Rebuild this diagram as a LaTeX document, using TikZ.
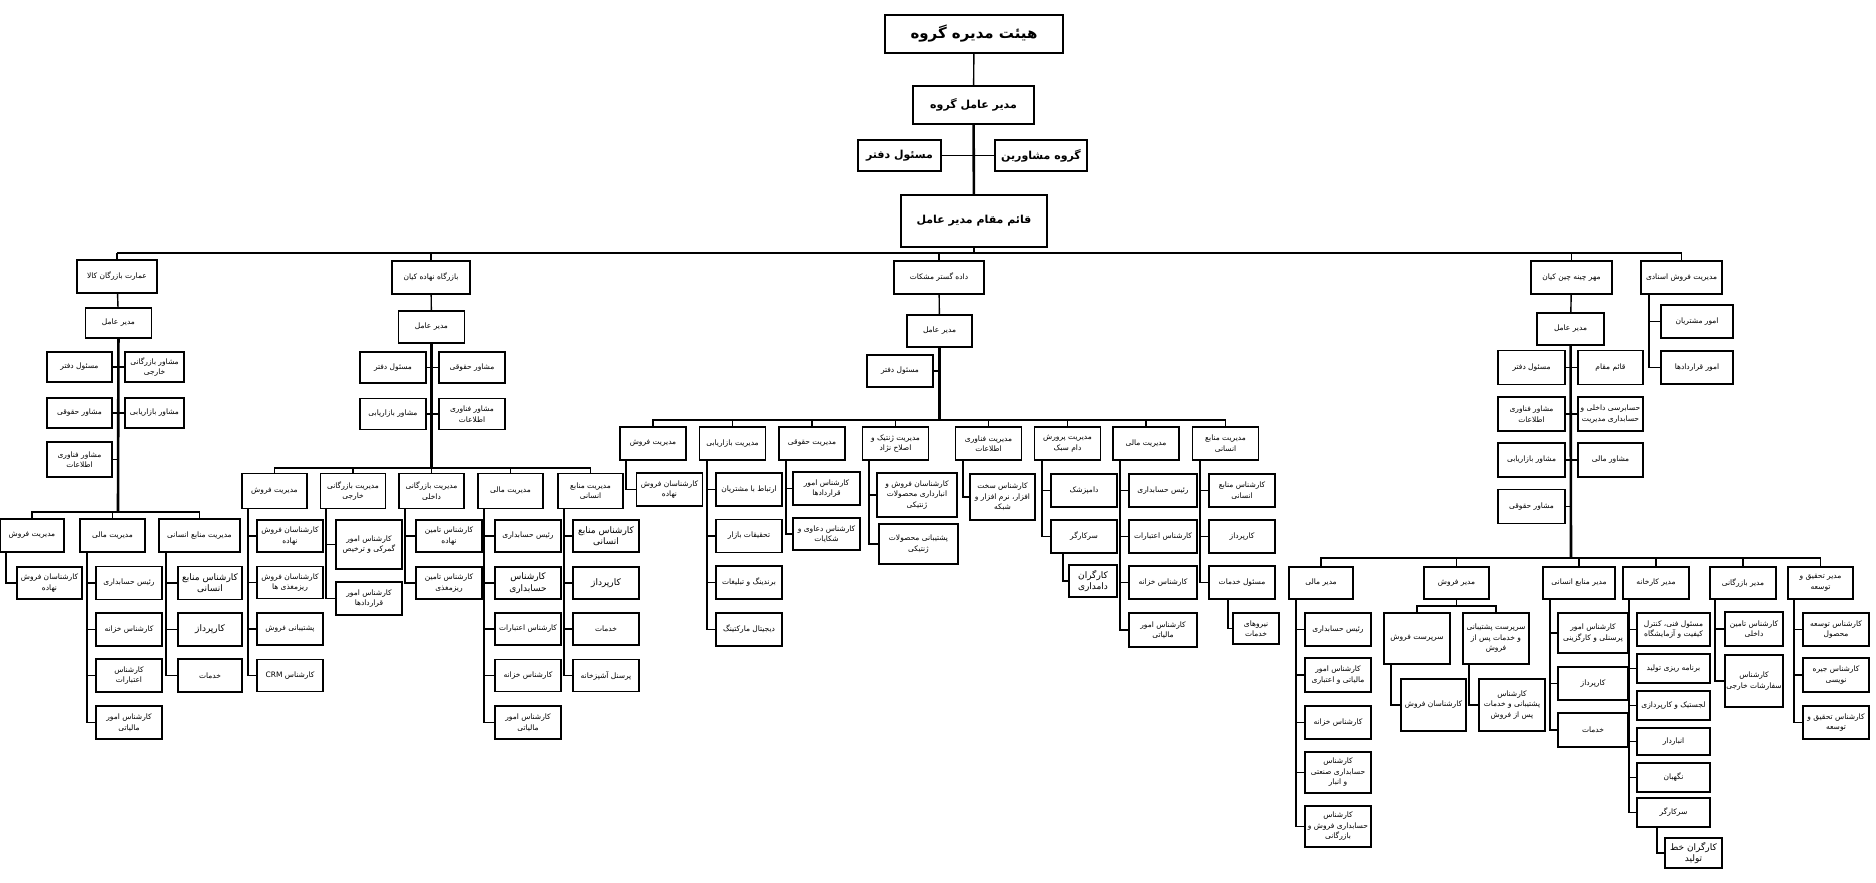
\documentclass[tikz,border=0pt]{standalone}
\usepackage{fontspec}
\newfontfamily\pfont[Script=Arabic]{DejaVu Sans}
\TeXXeTstate=1
\newcommand\rl[1]{\beginR#1\endR}

\begin{document}
\begin{tikzpicture}
[x=1pt,y=-1pt,
box/.style={draw, line width=1.9pt, align=center, inner sep=1pt,
minimum width=66pt, minimum height=33pt,
font=\pfont\fontsize{7.5}{10.5}\selectfont},
big/.style={font=\pfont\fontsize{9}{11.5}\selectfont},
title/.style={box, font=\pfont\bfseries\fontsize{11}{13}\selectfont},
link/.style={draw, line width=1.4pt},
bus/.style={draw, line width=2.6pt}]
\useasboundingbox[fill=white] (0,0) rectangle (1876,883);

% board
\node[title, minimum width=178pt, minimum height=38pt,
font=\pfont\bfseries\fontsize{15}{17}\selectfont] (board) at (974,34) {\rl{هیئت مدیره گروه}};
\node[title, minimum width=121pt, minimum height=38pt] (ceo) at (973.5,105) {\rl{مدیر عامل گروه}};
\node[title, minimum width=83pt, minimum height=31pt] (office) at (899.5,155.5) {\rl{مسئول دفتر}};
\node[title, minimum width=92pt, minimum height=31pt] (council) at (1041,155.5) {\rl{گروه مشاورین}};
\node[title, minimum width=146pt, minimum height=52pt] (deputy) at (974,221) {\rl{قائم مقام مدیر عامل}};
\coordinate (mainbus) at (974,253);
\draw[link] (board) -- (ceo);
\draw[bus] (ceo) -- (deputy);
\draw[link] (office) -- (office -| ceo);
\draw[link] (council) -- (council -| ceo);
\draw[bus] (deputy) -- (mainbus);

% company 1
\node[box, minimum width=80pt] (kala) at (117,276.5) {\rl{عمارت بازرگان کالا}};
\node[box, minimum height=30pt] (kceo) at (118.5,323) {\rl{مدیر عامل}};
\node[box, minimum width=65pt, minimum height=30pt] (kof) at (79.5,367) {\rl{مسئول دفتر}};
\node[box, minimum width=59pt, minimum height=30pt] (kfa) at (154.5,367) {\rl{مشاور بازرگانی}\\\rl{خارجی}};
\node[box, minimum width=65pt, minimum height=30pt] (kla) at (79.5,413) {\rl{مشاور حقوقی}};
\node[box, minimum width=59pt, minimum height=30pt] (kma) at (154.5,413) {\rl{مشاور بازاریابی}};
\node[box, minimum width=65pt, minimum height=35pt] (kit) at (79.5,459.5) {\rl{مشاور فناوری}\\\rl{اطلاعات}};
\coordinate (kbus) at (118,512);
\node[box, minimum width=64pt] (ksal) at (32,535.5) {\rl{مدیریت فروش}};
\node[box, minimum width=65pt] (kfin) at (112.5,535.5) {\rl{مدیریت مالی}};
\node[box, minimum width=81pt] (khr) at (199.5,535.5) {\rl{مدیریت منابع انسانی}};
\node[box, minimum width=65pt, minimum height=32pt] (ksal1) at (49.5,583) {\rl{کارشناسان فروش}\\\rl{نهاده}};
\node[box] (kfin1) at (129,583) {\rl{رئیس حسابداری}};
\node[box] (kfin2) at (129,629.5) {\rl{کارشناس خزانه}};
\node[box] (kfin3) at (129,675.5) {\rl{کارشناس}\\\rl{اعتبارات}};
\node[box] (kfin4) at (129,722.5) {\rl{کارشناس امور}\\\rl{مالیاتی}};
\node[box, big, minimum width=64pt] (khr1) at (210,583) {\rl{کارشناس منابع}\\\rl{انسانی}};
\node[box, big, minimum width=64pt] (khr2) at (210,629.5) {\rl{کارپرداز}};
\node[box, minimum width=64pt] (khr3) at (210,675.5) {\rl{خدمات}};
\coordinate (ksalS) at (6,0);
\coordinate (kfinS) at (87,0);
\coordinate (khrS) at (166,0);
\draw[link] (kala.north) -- (kala.north |- mainbus);
\draw[link] (kala) -- (kceo);
\draw[bus] (kceo) -- (kbus);
\foreach \c in {kof,kla,kit} \draw[link] (\c.east) -- (\c.east -| kbus);
\foreach \c in {kfa,kma} \draw[link] (\c.west) -- (\c.west -| kbus);
\foreach \c in {ksal,kfin,khr} \draw[link] (kbus) -| (\c.north);
\draw[link] (ksal.south -| ksalS) |- (ksal1.west);
\draw[link] (kfin.south -| kfinS) |- (kfin4.west);
\foreach \c in {kfin1,kfin2,kfin3} \draw[link] (\c.west) -- (\c.west -| kfinS);
\draw[link] (khr.south -| khrS) |- (khr3.west);
\foreach \c in {khr1,khr2} \draw[link] (\c.west) -- (\c.west -| khrS);

% company 2
\node[box, minimum width=78pt] (nah) at (431,277.5) {\rl{بازرگاه نهاده کیان}};
\node[box, minimum height=32pt] (nceo) at (431.5,327) {\rl{مدیر عامل}};
\node[box, minimum height=31pt] (nof) at (393,367.5) {\rl{مسئول دفتر}};
\node[box, minimum height=31pt] (nla) at (472,367.5) {\rl{مشاور حقوقی}};
\node[box, minimum height=31pt] (nma) at (393,414) {\rl{مشاور بازاریابی}};
\node[box, minimum height=31pt] (nit) at (472,414) {\rl{مشاور فناوری}\\\rl{اطلاعات}};
\coordinate (nbus) at (431.5,468);
\node[box, minimum width=65pt, minimum height=35pt] (nsal) at (274.5,491) {\rl{مدیریت فروش}};
\node[box, minimum width=65pt, minimum height=35pt] (nfor) at (353,491) {\rl{مدیریت  بازرگانی}\\\rl{خارجی}};
\node[box, minimum width=65pt, minimum height=35pt] (ndom) at (431.5,491) {\rl{مدیریت بازرگانی}\\\rl{داخلی}};
\node[box, minimum width=65pt, minimum height=35pt] (nfin) at (510.5,491) {\rl{مدیریت مالی}};
\node[box, minimum width=65pt, minimum height=35pt] (nhr) at (590.5,491) {\rl{مدیریت منابع}\\\rl{انسانی}};
\node[box, minimum height=32pt] (nsal1) at (290,536) {\rl{کارشناسان فروش}\\\rl{نهاده}};
\node[box, minimum height=32pt] (nsal2) at (290,582.5) {\rl{کارشناسان فروش}\\\rl{ریزمغذی ها}};
\node[box, minimum height=32pt] (nsal3) at (290,629) {\rl{پشتیبانی فروش}};
\node[box, minimum height=32pt] (nsal4) at (290,675.5) {\rl{کارشناس \beginL CRM\endL}};
\node[box, minimum height=49pt] (nfor1) at (369,544.5) {\rl{کارشناس امور}\\\rl{گمرکی و ترخیص}};
\node[box] (nfor2) at (369,598.5) {\rl{کارشناس امور}\\\rl{قراردادها}};
\node[box, minimum height=32pt] (ndom1) at (449,536) {\rl{کارشناس تامین}\\\rl{نهاده}};
\node[box, minimum height=32pt] (ndom2) at (449,583) {\rl{کارشناس تامین}\\\rl{ریزمغذی}};
\node[box, minimum height=32pt] (nfin1) at (528,536) {\rl{رئیس حسابداری}};
\node[box, big, minimum height=32pt] (nfin2) at (528,583) {\rl{کارشناس}\\\rl{حسابداری}};
\node[box, minimum height=32pt] (nfin3) at (528,629) {\rl{کارشناس اعتبارات}};
\node[box, minimum height=32pt] (nfin4) at (528,675.5) {\rl{کارشناس خزانه}};
\node[box] (nfin5) at (528,722.5) {\rl{کارشناس امور}\\\rl{مالیاتی}};
\node[box, big, minimum height=32pt] (nhr1) at (606,536) {\rl{کارشناس منابع}\\\rl{انسانی}};
\node[box, big, minimum height=32pt] (nhr2) at (606,583) {\rl{کارپرداز}};
\node[box, minimum height=32pt] (nhr3) at (606,629) {\rl{خدمات}};
\node[box, minimum height=32pt] (nhr4) at (606,675.5) {\rl{پرسنل آشپزخانه}};
\coordinate (nsalS) at (248,0);
\coordinate (nforS) at (326,0);
\coordinate (ndomS) at (405,0);
\coordinate (nfinS) at (484,0);
\coordinate (nhrS) at (564,0);
\draw[link] (nah.north) -- (nah.north |- mainbus);
\draw[link] (nah) -- (nceo);
\draw[bus] (nceo) -- (nbus);
\foreach \c in {nof,nma} \draw[link] (\c.east) -- (\c.east -| nbus);
\foreach \c in {nla,nit} \draw[link] (\c.west) -- (\c.west -| nbus);
\foreach \c in {nsal,nfor,ndom,nfin,nhr} \draw[link] (nbus) -| (\c.north);
\draw[link] (nsal.south -| nsalS) |- (nsal4.west);
\foreach \c in {nsal1,nsal2,nsal3} \draw[link] (\c.west) -- (\c.west -| nsalS);
\draw[link] (nfor.south -| nforS) |- (nfor2.west);
\draw[link] (nfor1.west) -- (nfor1.west -| nforS);
\draw[link] (ndom.south -| ndomS) |- (ndom2.west);
\draw[link] (ndom1.west) -- (ndom1.west -| ndomS);
\draw[link] (nfin.south -| nfinS) |- (nfin5.west);
\foreach \c in {nfin1,nfin2,nfin3,nfin4} \draw[link] (\c.west) -- (\c.west -| nfinS);
\draw[link] (nhr.south -| nhrS) |- (nhr4.west);
\foreach \c in {nhr1,nhr2,nhr3} \draw[link] (\c.west) -- (\c.west -| nhrS);

% company 3
\node[box, minimum width=90pt] (msh) at (939,277.5) {\rl{داده گستر مشکات}};
\node[box, minimum width=65pt, minimum height=32pt] (mceo) at (939.5,331) {\rl{مدیر عامل}};
\node[box, minimum height=32pt] (mof) at (900,371) {\rl{مسئول دفتر}};
\coordinate (mbus) at (939.5,420);
\node[box] (msal) at (653,443.5) {\rl{مدیریت فروش}};
\node[box] (mmar) at (732.5,443.5) {\rl{مدیریت بازاریابی}};
\node[box] (mlaw) at (812,443.5) {\rl{مدیریت حقوقی}};
\node[box] (mgen) at (895.5,443.5) {\rl{مدیریت ژنتیک و}\\\rl{اصلاح نژاد}};
\node[box] (mit) at (988.5,443.5) {\rl{مدیریت فناوری}\\\rl{اطلاعات}};
\node[box] (mliv) at (1067.5,443.5) {\rl{مدیریت پرورش}\\\rl{دام سبک}};
\node[box] (mfin) at (1146,443.5) {\rl{مدیریت مالی}};
\node[box] (mhr) at (1225.5,443.5) {\rl{مدیریت منابع}\\\rl{انسانی}};
\node[box] (msal1) at (669.5,489.5) {\rl{کارشناسان فروش}\\\rl{نهاده}};
\node[box] (mmar1) at (749,489.5) {\rl{ارتباط با مشتریان}};
\node[box] (mmar2) at (749,536) {\rl{تحقیقات بازار}};
\node[box] (mmar3) at (749,582.5) {\rl{برندینگ و تبلیغات}};
\node[box] (mmar4) at (749,629.5) {\rl{دیجیتال مارکتینگ}};
\node[box, minimum width=67pt] (mlaw1) at (826.5,488.5) {\rl{کارشناس امور}\\\rl{قراردادها}};
\node[box, minimum width=67pt, minimum height=32pt] (mlaw2) at (826.5,534) {\rl{کارشناس دعاوی و}\\\rl{شکایات}};
\node[box, minimum width=80pt, minimum height=44pt] (mgen1) at (917,495) {\rl{کارشناسان فروش و}\\\rl{انبارداری محصولات}\\\rl{ژنتیکی}};
\node[box, minimum width=79pt, minimum height=40pt] (mgen2) at (918.5,544) {\rl{پشتیبانی محصولات}\\\rl{ژنتیکی}};
\node[box, minimum width=65pt, minimum height=46pt] (mit1) at (1002.5,497) {\rl{کارشناس سخت}\\\rl{افزار، نرم افزار و}\\\rl{شبکه}};
\node[box] (mliv1) at (1084,490.5) {\rl{دامپزشک}};
\node[box] (mliv2) at (1084,536.5) {\rl{سرکارگر}};
\node[box, big, minimum width=48pt, minimum height=32pt] (mliv3) at (1093,581) {\rl{کارگران}\\\rl{دامداری}};
\node[box, minimum width=68pt] (mfin1) at (1163,490.5) {\rl{رئیس حسابداری}};
\node[box, minimum width=68pt] (mfin2) at (1163,536.5) {\rl{کارشناس اعتبارات}};
\node[box, minimum width=68pt] (mfin3) at (1163,582.5) {\rl{کارشناس خزانه}};
\node[box, minimum width=68pt, minimum height=34pt] (mfin4) at (1163,630) {\rl{کارشناس امور}\\\rl{مالیاتی}};
\node[box] (mhr1) at (1242,490.5) {\rl{کارشناس منابع}\\\rl{انسانی}};
\node[box] (mhr2) at (1242,536.5) {\rl{کارپرداز}};
\node[box] (mhr3) at (1242,582.5) {\rl{مسئول خدمات}};
\node[box, minimum width=46pt, minimum height=31pt] (mhr4) at (1256,628.5) {\rl{نیروهای}\\\rl{خدمات}};
\coordinate (msalS) at (626,0);
\coordinate (mmarS) at (707,0);
\coordinate (mlawS) at (786,0);
\coordinate (mgenS) at (869,0);
\coordinate (mitS) at (963,0);
\coordinate (mlivS) at (1042,0);
\coordinate (mlivT) at (1063,0);
\coordinate (mfinS) at (1120,0);
\coordinate (mhrS) at (1200,0);
\coordinate (mhrT) at (1228,0);
\draw[link] (msh.north) -- (msh.north |- mainbus);
\draw[link] (msh) -- (mceo);
\draw[bus] (mceo) -- (mbus);
\draw[link] (mof.east) -- (mof.east -| mbus);
\foreach \c in {msal,mmar,mlaw,mgen,mit,mliv,mfin,mhr} \draw[link] (mbus) -| (\c.north);
\draw[link] (msal.south -| msalS) |- (msal1.west);
\draw[link] (mmar.south -| mmarS) |- (mmar4.west);
\foreach \c in {mmar1,mmar2,mmar3} \draw[link] (\c.west) -- (\c.west -| mmarS);
\draw[link] (mlaw.south -| mlawS) |- (mlaw2.west);
\draw[link] (mlaw1.west) -- (mlaw1.west -| mlawS);
\draw[link] (mgen.south -| mgenS) |- (mgen2.west);
\draw[link] (mgen1.west) -- (mgen1.west -| mgenS);
\draw[link] (mit.south -| mitS) |- (mit1.west);
\draw[link] (mliv.south -| mlivS) |- (mliv2.west);
\draw[link] (mliv1.west) -- (mliv1.west -| mlivS);
\draw[link] (mliv2.south -| mlivT) |- (mliv3.west);
\draw[link] (mfin.south -| mfinS) |- (mfin4.west);
\foreach \c in {mfin1,mfin2,mfin3} \draw[link] (\c.west) -- (\c.west -| mfinS);
\draw[link] (mhr.south -| mhrS) |- (mhr3.west);
\foreach \c in {mhr1,mhr2} \draw[link] (\c.west) -- (\c.west -| mhrS);
\draw[link] (mhr3.south -| mhrT) |- (mhr4.west);

% company 4
\node[box, minimum width=81pt] (chin) at (1571.5,277.5) {\rl{مهر چینه چین کیان}};
\node[box, minimum width=81pt] (doc) at (1681.5,277.5) {\rl{مدیریت فروش اسنادی}};
\node[box, minimum width=72pt] (doc1) at (1697,321.5) {\rl{امور مشتریان}};
\node[box, minimum width=72pt] (doc2) at (1697,367.5) {\rl{امور قراردادها}};
\node[box, minimum width=67pt, minimum height=32pt] (cceo) at (1570.5,329) {\rl{مدیر عامل}};
\node[box, minimum width=67pt, minimum height=34pt] (cof) at (1531.5,367.5) {\rl{مسئول دفتر}};
\node[box, minimum width=67pt, minimum height=34pt] (cit) at (1531.5,414) {\rl{مشاور فناوری}\\\rl{اطلاعات}};
\node[box, minimum width=67pt, minimum height=34pt] (cma) at (1531.5,460) {\rl{مشاور بازاریابی}};
\node[box, minimum width=67pt, minimum height=34pt] (cla) at (1531.5,506.5) {\rl{مشاور حقوقی}};
\node[box, minimum width=65pt, minimum height=34pt] (cdep) at (1610.5,367.5) {\rl{قائم مقام}};
\node[box, minimum width=65pt, minimum height=34pt] (caud) at (1610.5,414) {\rl{حسابرسی داخلی و}\\\rl{حسابداری مدیریت}};
\node[box, minimum width=65pt, minimum height=34pt] (cfa) at (1610.5,460) {\rl{مشاور مالی}};
\coordinate (cbus) at (1571,558);
\node[box, minimum width=64pt, minimum height=32pt] (cfin) at (1321,583) {\rl{مدیر مالی}};
\node[box, minimum width=65pt, minimum height=32pt] (csal) at (1456.5,583) {\rl{مدیر فروش}};
\node[box, minimum width=72pt, minimum height=32pt] (chr) at (1579,583) {\rl{مدیر منابع انسانی}};
\node[box, minimum height=32pt] (cfac) at (1656,583) {\rl{مدیر کارخانه}};
\node[box, minimum height=32pt] (ccom) at (1743,583) {\rl{مدیر بازرگانی}};
\node[box, minimum width=65pt, minimum height=32pt] (crd) at (1820.5,583) {\rl{مدیر تحقیق و}\\\rl{توسعه}};
\node[box] (cfin1) at (1338,629.5) {\rl{رئیس حسابداری}};
\node[box, minimum height=34pt] (cfin2) at (1338,675) {\rl{کارشناس امور}\\\rl{مالیاتی و اعتباری}};
\node[box] (cfin3) at (1338,722.5) {\rl{کارشناس خزانه}};
\node[box, minimum height=41pt] (cfin4) at (1338,772.5) {\rl{کارشناس}\\\rl{حسابداری صنعتی}\\\rl{و انبار}};
\node[box, minimum height=41pt] (cfin5) at (1338,826.5) {\rl{کارشناس}\\\rl{حسابداری فروش و}\\\rl{بازرگانی}};
\coordinate (csbus) at (1456.5,606);
\node[box, minimum height=51pt] (csal1) at (1417,638.5) {\rl{سرپرست فروش}};
\node[box, minimum height=51pt] (csal2) at (1496,638.5) {\rl{سرپرست پشتیبانی}\\\rl{و خدمات پس از}\\\rl{فروش}};
\node[box, minimum width=65pt, minimum height=52pt] (csal3) at (1433.5,705) {\rl{کارشناسان فروش}};
\node[box, minimum height=52pt] (csal4) at (1512,705) {\rl{کارشناس}\\\rl{پشتیبانی و خدمات}\\\rl{پس از فروش}};
\node[box, minimum width=70pt, minimum height=40pt] (chr1) at (1593,633) {\rl{کارشناس امور}\\\rl{پرسنلی و کارگزینی}};
\node[box, minimum width=70pt] (chr2) at (1593,683.5) {\rl{کارپرداز}};
\node[box, minimum width=70pt, minimum height=34pt] (chr3) at (1593,730) {\rl{خدمات}};
\node[box, minimum width=73pt] (cfac1) at (1673.5,629.5) {\rl{مسئول فنی، کنترل}\\\rl{کیفیت و آزمایشگاه}};
\node[box, minimum width=73pt, minimum height=29pt] (cfac2) at (1673.5,668.5) {\rl{برنامه ریزی تولید}};
\node[box, minimum width=73pt, minimum height=29pt] (cfac3) at (1673.5,705.5) {\rl{لجستیک و کارپردازی}};
\node[box, minimum width=73pt, minimum height=27pt] (cfac4) at (1673.5,741.5) {\rl{انباردار}};
\node[box, minimum width=73pt, minimum height=29pt] (cfac5) at (1673.5,777.5) {\rl{نگهبان}};
\node[box, minimum width=73pt, minimum height=29pt] (cfac6) at (1673.5,812.5) {\rl{سرکارگر}};
\node[box, big, minimum width=57pt, minimum height=30pt] (cfac7) at (1693.5,853) {\rl{کارگران خط}\\\rl{تولید}};
\node[box, minimum width=58pt, minimum height=34pt] (ccom1) at (1754,629) {\rl{کارشناس تامین}\\\rl{داخلی}};
\node[box, minimum width=58pt, minimum height=52pt] (ccom2) at (1754,681) {\rl{کارشناس}\\\rl{سفارشات خارجی}};
\node[box] (crd1) at (1836,629.5) {\rl{کارشناس توسعه}\\\rl{محصول}};
\node[box, minimum height=34pt] (crd2) at (1836,675) {\rl{کارشناس جیره}\\\rl{نویسی}};
\node[box] (crd3) at (1836,722.5) {\rl{کارشناس تحقیق و}\\\rl{توسعه}};
\coordinate (docS) at (1649,0);
\coordinate (cfinS) at (1296,0);
\coordinate (csalS) at (1391,0);
\coordinate (csalT) at (1469,0);
\coordinate (chrS) at (1550,0);
\coordinate (cfacS) at (1629,0);
\coordinate (cfacT) at (1657,0);
\coordinate (ccomS) at (1715,0);
\coordinate (crdS) at (1794,0);
\draw[bus] (kala.north |- mainbus) -- (doc.north |- mainbus);
\draw[link] (chin.north) -- (chin.north |- mainbus);
\draw[link] (doc.north) -- (doc.north |- mainbus);
\draw[link] (doc.south -| docS) |- (doc2.west);
\draw[link] (doc1.west) -- (doc1.west -| docS);
\draw[link] (chin) -- (cceo);
\draw[bus] (cceo) -- (cbus);
\foreach \c in {cof,cit,cma,cla} \draw[link] (\c.east) -- (\c.east -| cbus);
\foreach \c in {cdep,caud,cfa} \draw[link] (\c.west) -- (\c.west -| cbus);
\foreach \c in {cfin,csal,chr,cfac,ccom,crd} \draw[link] (cbus) -| (\c.north);
\draw[link] (cfin.south -| cfinS) |- (cfin5.west);
\foreach \c in {cfin1,cfin2,cfin3,cfin4} \draw[link] (\c.west) -- (\c.west -| cfinS);
\draw[link] (csal) -- (csbus);
\foreach \c in {csal1,csal2} \draw[link] (csbus) -| (\c.north);
\draw[link] (csal1.south -| csalS) |- (csal3.west);
\draw[link] (csal2.south -| csalT) |- (csal4.west);
\draw[link] (chr.south -| chrS) |- (chr3.west);
\foreach \c in {chr1,chr2} \draw[link] (\c.west) -- (\c.west -| chrS);
\draw[link] (cfac.south -| cfacS) |- (cfac6.west);
\foreach \c in {cfac1,cfac2,cfac3,cfac4,cfac5} \draw[link] (\c.west) -- (\c.west -| cfacS);
\draw[link] (cfac6.south -| cfacT) |- (cfac7.west);
\draw[link] (ccom.south -| ccomS) |- (ccom2.west);
\draw[link] (ccom1.west) -- (ccom1.west -| ccomS);
\draw[link] (crd.south -| crdS) |- (crd3.west);
\foreach \c in {crd1,crd2} \draw[link] (\c.west) -- (\c.west -| crdS);
\end{tikzpicture}
\end{document}
